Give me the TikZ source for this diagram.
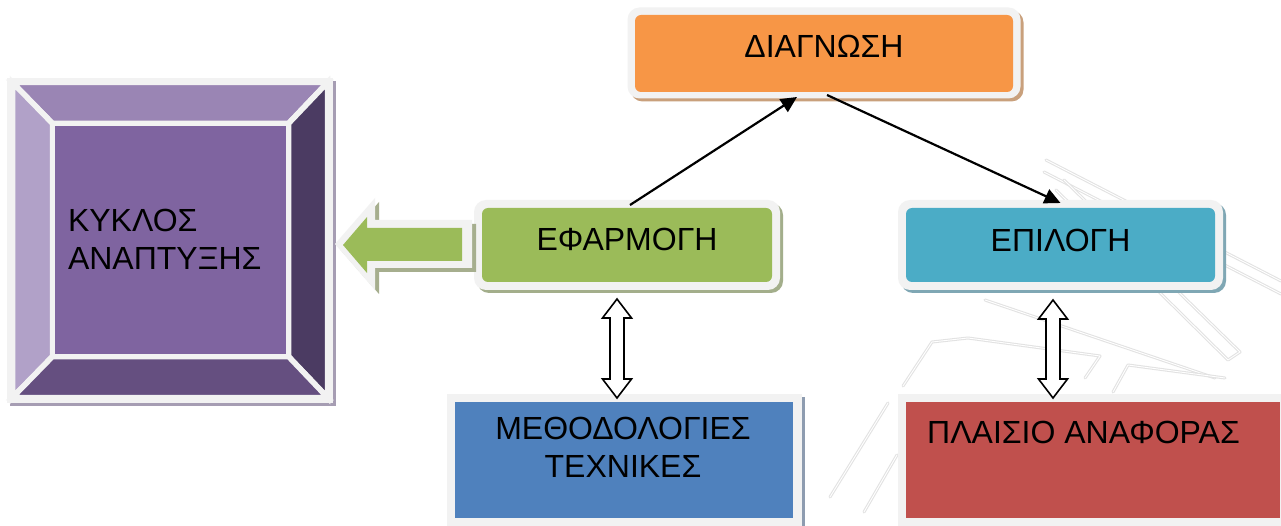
\documentclass[tikz,border=0pt]{standalone}
\usepackage{fontspec}
\setmainfont{Liberation Sans}
\usetikzlibrary{arrows.meta,calc,backgrounds}

\definecolor{framegray}{HTML}{F2F2F2}
\definecolor{diagfill}{HTML}{F79646}
\definecolor{diagshadow}{HTML}{C9A07C}
\definecolor{applyfill}{HTML}{9BBB59}
\definecolor{applyshadow}{HTML}{A3AE8B}
\definecolor{selectfill}{HTML}{4BACC6}
\definecolor{selectshadow}{HTML}{7FA7B4}
\definecolor{methodfill}{HTML}{4F81BD}
\definecolor{methodshadow}{HTML}{8E9CB0}
\definecolor{reffill}{HTML}{C0504D}
\definecolor{bevtop}{HTML}{9A85B4}
\definecolor{bevleft}{HTML}{B1A1C8}
\definecolor{bevright}{HTML}{4B3B62}
\definecolor{bevbottom}{HTML}{654F80}
\definecolor{bevcenter}{HTML}{7F64A0}
\definecolor{bevshadow}{HTML}{A69DB3}
\definecolor{arrowshadow}{HTML}{A6AE8E}
\definecolor{marklight}{HTML}{E2E2E2}

\begin{document}
\begin{tikzpicture}[x=1pt,y=-1pt,
  every node/.style={inner sep=0pt, outer sep=0pt,
    font=\fontsize{32}{37.5}\selectfont},
  stage/.style={rounded corners=6pt},
  bevelpiece/.style={draw=framegray, line width=5.5pt, line join=miter},
  link/.style={line width=2.2pt, -{Triangle[length=16pt,width=15pt]}},
  hollow/.style={fill=white, draw=black, line width=1.6pt, line join=miter},
  emblemstroke/.style={draw=marklight, line width=3pt, line cap=round, line join=round,
    postaction={draw=white, line width=0.9pt}}
]
\useasboundingbox (0,0) rectangle (1281,526);

% ---------- bevelled square on the left ----------
\fill[bevshadow] (10,81) rectangle (336,406);
\fill[framegray] (7,78) rectangle (333,403);
\node[minimum width=310pt, minimum height=310pt] (cycle) at (170,240) {};
\filldraw[bevelpiece, fill=bevtop]    (12.5,82.5) -- (327.5,82.5) -- (288.5,123.5) -- (52.5,123.5) -- cycle;
\filldraw[bevelpiece, fill=bevleft]   (12.5,82.5) -- (52.5,123.5) -- (52.5,356.5) -- (12.5,397.5) -- cycle;
\filldraw[bevelpiece, fill=bevright]  (327.5,82.5) -- (327.5,397.5) -- (288.5,356.5) -- (288.5,123.5) -- cycle;
\filldraw[bevelpiece, fill=bevbottom] (12.5,397.5) -- (327.5,397.5) -- (288.5,356.5) -- (52.5,356.5) -- cycle;
\filldraw[bevelpiece, fill=bevcenter] (52.5,123.5) rectangle (288.5,356.5);
\node[anchor=north west, align=left] (cycletext) at (68,209.5) {ΚΥΚΛΟΣ\\ΑΝΑΠΤΥΞΗΣ};

% ---------- the coloured stages ----------
\node[stage, fill=diagfill, minimum width=378pt, text height=43pt, text depth=34pt]
  (diag) at (824,53.5) {ΔΙΑΓΝΩΣΗ};
\node[stage, fill=applyfill, minimum width=290pt, text height=43pt, text depth=31pt]
  (apply) at (627,245) {ΕΦΑΡΜΟΓΗ};
\node[stage, fill=selectfill, minimum width=309pt, text height=44pt, text depth=30pt]
  (select) at (1060.5,245) {ΕΠΙΛΟΓΗ};

\node[fill=methodfill, minimum width=338pt, minimum height=116pt] (method) at (624,460) {};
\node[anchor=north, align=center] (methodtext) at (623,417.5) {ΜΕΘΟΔΟΛΟΓΙΕΣ\\ΤΕΧΝΙΚΕΣ};
\node[fill=reffill, minimum width=374pt, minimum height=116pt] (ref) at (1093,460) {};
\node[anchor=base] (reftext) at (1083.5,443) {ΠΛΑΙΣΙΟ ΑΝΑΦΟΡΑΣ};

% ---------- block arrow towards the bevelled square ----------
\fill[arrowshadow] (339,248) -- (379,202) -- (379,224) -- (476,224) -- (476,272) -- (379,272) -- (379,294) -- cycle;
\fill[framegray] (335,244) -- (375,198) -- (375,220) -- (472,220) -- (472,268) -- (375,268) -- (375,290) -- cycle;
\fill[applyfill] (343,245) -- (367,217) -- (367,228) -- (462,228) -- (462,261) -- (367,261) -- (367,273) -- cycle;

% ---------- connectors ----------
\draw[link] ($(apply.north)+(3,-3)$) -- ($(diag.south)+(-27,5)$);
\draw[link] ($(diag.south)+(3,3)$) -- ($(select.north)+(0,-5)$);

% two-way hollow arrows
\draw[hollow] (617,299) -- (631.5,318) -- (624,318) -- (624,379) -- (631.5,379) -- (617,398)
  -- (602.5,379) -- (610,379) -- (610,318) -- (602.5,318) -- cycle;
\draw[hollow] (1053,300) -- (1067.5,319) -- (1060,319) -- (1060,379) -- (1067.5,379) -- (1053,398)
  -- (1038.5,379) -- (1046,379) -- (1046,319) -- (1038.5,319) -- cycle;

% ---------- background: page, faint emblem, frames and shadows ----------
\begin{pgfonlayer}{background}
  \fill[white] (0,0) rectangle (1281,526);
  % faint emblem strokes
  \draw[emblemstroke] (1046,160) -- (1281,281);
  \draw[emblemstroke] (1044,172) -- (1281,294);
  \draw[emblemstroke] (1064,180) -- (1240,352) -- (1228,360) -- (1056,190);
  \draw[emblemstroke] (985,300) -- (1215,378);
  \draw[emblemstroke] (903,386) -- (932,342) -- (968,338) -- (1100,356) -- (1085,378);
  \draw[emblemstroke] (1113,392) -- (1128,365) -- (1225,378);
  \draw[emblemstroke] (830,497) -- (888,403);
  \draw[emblemstroke] (864,512) -- (897,455);
  % shadows
  \fill[diagshadow, rounded corners=12pt] ($(diag.north west)+(-4.5,-4.5)$) rectangle ($(diag.south east)+(10.5,9.5)$);
  \fill[applyshadow, rounded corners=12pt] ($(apply.north west)+(-5,-5)$) rectangle ($(apply.south east)+(11,11)$);
  \fill[selectshadow, rounded corners=12pt] ($(select.north west)+(-5,-5)$) rectangle ($(select.south east)+(11,11)$);
  \fill[methodshadow] ($(method.north west)+(-5,-5)$) rectangle ($(method.south east)+(12,12)$);
  % light frames
  \fill[framegray, rounded corners=12pt] ($(diag.north west)+(-7.5,-7.5)$) rectangle ($(diag.south east)+(7.5,6.5)$);
  \fill[framegray, rounded corners=12pt] ($(apply.north west)+(-8,-8)$) rectangle ($(apply.south east)+(8,8)$);
  \fill[framegray, rounded corners=12pt] ($(select.north west)+(-8,-8)$) rectangle ($(select.south east)+(8,8)$);
  \fill[framegray] ($(method.north west)+(-8,-8)$) rectangle ($(method.south east)+(9,9)$);
  \fill[framegray] ($(ref.north west)+(-8,-8)$) rectangle ($(ref.south east)+(9,9)$);
\end{pgfonlayer}
\end{tikzpicture}
\end{document}
